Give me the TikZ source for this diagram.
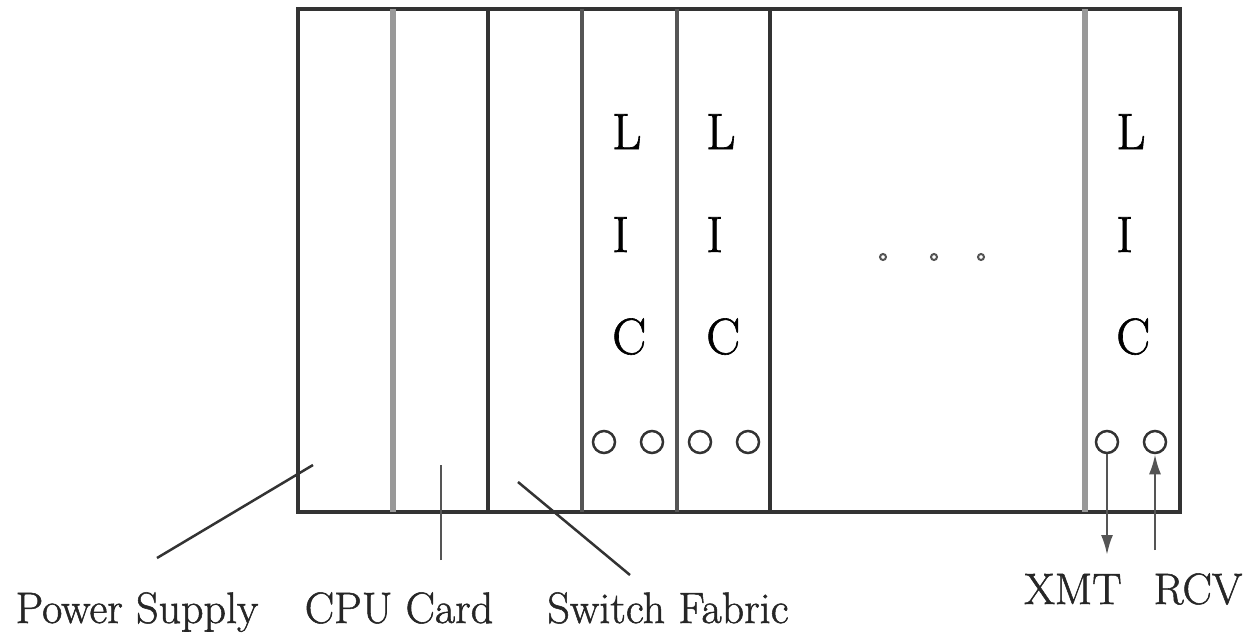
\documentclass[tikz,border=0pt]{standalone}
\usepackage{fontspec}
\newfontfamily\heavyrm{Latin Modern Roman}[FakeBold=1.2]
\usetikzlibrary{arrows.meta}
\definecolor{edge}{HTML}{333333}
\definecolor{midgray}{HTML}{555555}
\definecolor{softgray}{HTML}{999999}
\tikzset{
  frame/.style={draw=edge, line width=4pt},
  divdark/.style={draw=edge, line width=3.5pt},
  divmid/.style={draw=midgray, line width=4pt},
  divlight/.style={draw=softgray, line width=6pt},
  port/.style={circle, draw=edge, line width=2.5pt, minimum size=22pt, inner sep=0pt},
  dot/.style={circle, draw=midgray, line width=2pt, minimum size=6pt, inner sep=0pt},
  leader/.style={draw=edge, line width=2.5pt},
  conn/.style={draw=midgray, line width=2.5pt},
  tip/.style={-{Latex[length=20pt,width=12pt]}},
  lbl/.style={font=\heavyrm\fontsize{44}{44}\selectfont, text=black!85, inner sep=0pt, anchor=base},
  lic/.style={font=\heavyrm\fontsize{51}{51}\selectfont, inner sep=0pt, anchor=base west},
}
\begin{document}
\begin{tikzpicture}[x=1pt,y=-1pt]
\useasboundingbox (0,0) rectangle (1247,633);
% chassis
\draw[frame] (298,9) rectangle (1180,512);
% card dividers
\draw[divlight] (393,9) -- (393,512);
\draw[divdark] (488,9) -- (488,512);
\draw[divmid] (582,9) -- (582,512);
\draw[divmid] (677,9) -- (677,512);
\draw[divdark] (770,9) -- (770,512);
\draw[draw=softgray, line width=6pt] (1085,9) -- (1085,512);
% LIC letters
\foreach \cx/\nm in {612/a,706/b,1116/c}{
  \node[lic] (L\nm) at (\cx,149) {L};
  \node[lic] (I\nm) at (\cx,252) {I};
  \node[lic] (C\nm) at (\cx,354) {C};
}
% ports
\node[port] (p1) at (604,442) {};
\node[port] (p2) at (652,442) {};
\node[port] (p3) at (700,442) {};
\node[port] (p4) at (748,442) {};
\node[port] (px) at (1107,442) {};
\node[port] (pr) at (1155,442) {};
% ellipsis dots
\node[dot] (d1) at (883,257) {};
\node[dot] (d2) at (934,257) {};
\node[dot] (d3) at (981,257) {};
% labels
\node[lbl] (ps) at (137,623) {Power Supply};
\node[lbl] (cpu) at (399,623) {CPU Card};
\node[lbl] (sf) at (668,623) {Switch Fabric};
\node[lbl] (xmt) at (1073,604) {XMT};
\node[lbl] (rcv) at (1198,604) {RCV};
% leader lines
\coordinate (psA) at (157,558);
\coordinate (psB) at (313,465);
\coordinate (cpuA) at (441,560);
\coordinate (cpuB) at (441,465);
\coordinate (sfA) at (630,575);
\coordinate (sfB) at (518,482);
\draw[leader] (psA) -- (psB);
\draw[conn] (cpuA) -- (cpuB);
\draw[leader] (sfA) -- (sfB);
% transmit / receive
\coordinate (xEnd) at (1107,555);
\coordinate (rEnd) at (1155,550);
\draw[conn,tip] (px.south) -- (xEnd);
\draw[conn,tip] (rEnd) -- (pr.south);
\end{tikzpicture}
\end{document}
